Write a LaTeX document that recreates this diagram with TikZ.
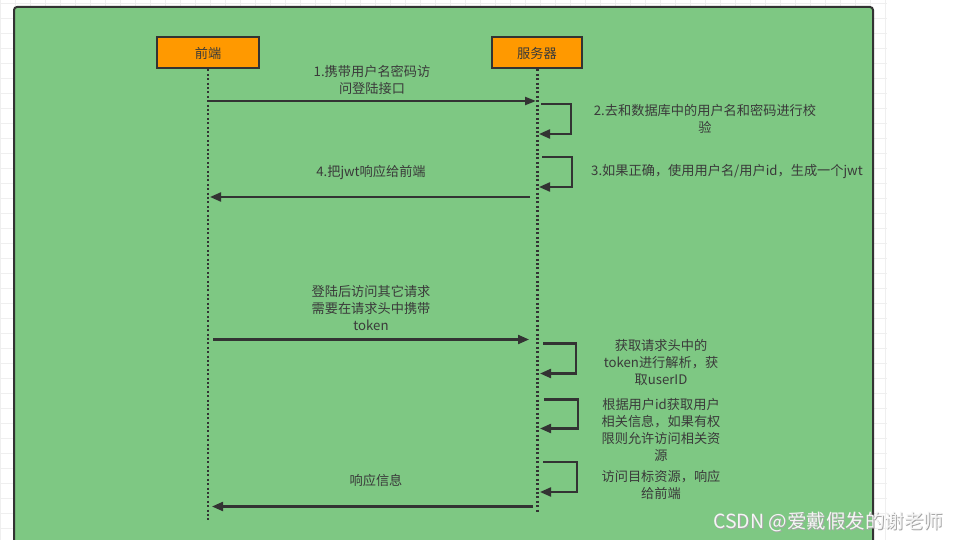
\documentclass[tikz,border=0pt]{standalone}
\usepackage{fontspec}
\setmainfont{Noto Sans CJK SC}
\usetikzlibrary{arrows.meta}
\definecolor{bggreen}{HTML}{7EC883}
\definecolor{boxorange}{HTML}{FF9900}
\definecolor{edge}{HTML}{333333}
\definecolor{txt}{HTML}{3A3A3A}
\definecolor{gridc}{HTML}{EFEFEF}
\tikzset{
  actor/.style={draw=edge, line width=2pt, fill=boxorange, minimum height=31pt, inner sep=0pt, font=\fontsize{13.2}{17}\selectfont, text=txt},
  lifeline/.style={draw=edge, line width=2.2pt, dash pattern=on 2pt off 2.4pt},
  msg/.style={draw=edge, line width=2.1pt, -{Triangle[length=11pt,width=9pt]}},
  lbl/.style={align=center, inner sep=0pt, text=txt, font=\fontsize{13.2}{17}\selectfont},
}
\begin{document}
\begin{tikzpicture}[x=1pt,y=-1pt]
\useasboundingbox (0,0) rectangle (961,540);
\clip (0,0) rectangle (961,540);
\fill[white] (0,0) rectangle (961,540);
% faint grid
\foreach \gx in {0,15,...,885} \draw[gridc, line width=0.8pt] (\gx,0) -- (\gx,540);
\foreach \gy in {3,18,...,540} \draw[gridc, line width=0.8pt] (0,\gy) -- (887,\gy);
% green container
\draw[edge, line width=2pt, fill=bggreen, rounded corners=3pt] (14,7) rectangle (873,560);
% actors
\node[actor, minimum width=102pt] (fe) at (208,53) {前端};
\node[actor, minimum width=90pt] (srv) at (537,53) {服务器};
% lifeline ends
\coordinate (feEnd) at (208,521);
\coordinate (srvEnd) at (537.5,512);
\draw[lifeline] (fe.south) -- (feEnd);
\draw[lifeline] ([xshift=0.5pt]srv.south) -- (srvEnd);
% message endpoints
\coordinate (m1a) at (208,101);
\coordinate (m1b) at (536,101);
\coordinate (l2a) at (541,104);
\coordinate (l2b) at (539,134);
\coordinate (l3a) at (542,157);
\coordinate (l3b) at (539,187);
\coordinate (m4a) at (530,197);
\coordinate (m4b) at (210,197);
\coordinate (m5a) at (213,339.5);
\coordinate (m5b) at (529,339.5);
\coordinate (l6a) at (543,343.5);
\coordinate (l6b) at (540,373.5);
\coordinate (l7a) at (544,399.5);
\coordinate (l7b) at (540,428.5);
\coordinate (l8a) at (543,462);
\coordinate (l8b) at (540,492);
\coordinate (m9a) at (533,506.5);
\coordinate (m9b) at (212,506.5);
% messages
\draw[msg, -{Triangle[length=11pt,width=8pt]}] (m1a) -- (m1b);
\draw[msg] (l2a) -- ++(30,0) |- (l2b);
\draw[msg] (l3a) -- ++(30,0) |- (l3b);
\draw[msg] (m4a) -- (m4b);
\draw[msg] (m5a) -- (m5b);
\draw[msg] (l6a) -- ++(33,0) |- (l6b);
\draw[msg] (l7a) -- ++(34,0) |- (l7b);
\draw[msg] (l8a) -- ++(34,0) |- (l8b);
\draw[msg] (m9a) -- (m9b);
% labels
\node[lbl] (t1) at (372,79.5) {1.携带用户名密码访\\问登陆接口};
\node[lbl] (t2) at (705,119) {2.去和数据库中的用户名和密码进行校\\验};
\node[lbl] (t3) at (727,172) {3.如果正确，使用用户名/用户id，生成一个jwt};
\node[lbl] (t4) at (371,173) {4.把jwt响应给前端};
\node[lbl] (t5) at (371,308) {登陆后访问其它请求\\需要在请求头中携带\\token};
\node[lbl] (t6) at (661,362) {获取请求头中的\\token进行解析，获\\取userID};
\node[lbl] (t7) at (661,430) {根据用户id获取用户\\相关信息，如果有权\\限则允许访问相关资\\源};
\node[lbl] (t8) at (661,485) {访问目标资源，响应\\给前端};
\node[lbl] (t9) at (376,480) {响应信息};
% watermark
\node[anchor=west, inner sep=0pt, text=gray!70, font=\fontsize{19.5}{22}\selectfont] at (714,522.5) {CSDN @爱戴假发的谢老师};
\node[anchor=west, inner sep=0pt, text=white!92!gray, font=\fontsize{19.5}{22}\selectfont] (wm) at (713,521.5) {CSDN @爱戴假发的谢老师};
\end{tikzpicture}
\end{document}
